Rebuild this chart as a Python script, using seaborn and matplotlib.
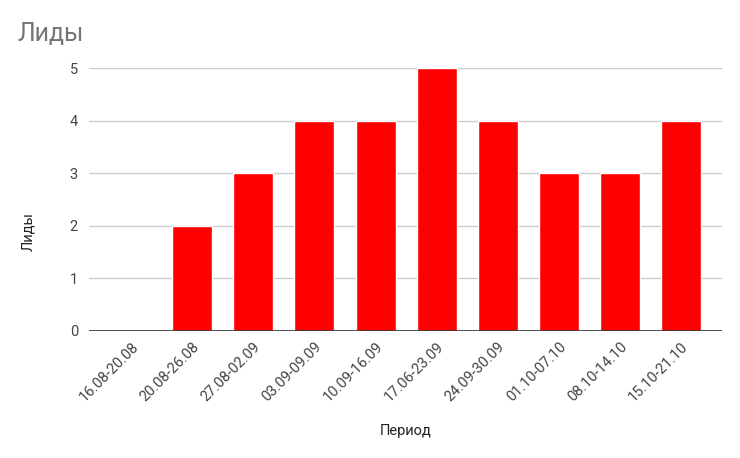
import matplotlib
matplotlib.use("Agg")
import matplotlib.pyplot as plt
import seaborn as sns
import pandas as pd

# Data
periods = ["16.08-20.08", "20.08-26.08", "27.08-02.09", "03.09-09.09", "10.09-16.09",
           "17.06-23.09", "24.09-30.09", "01.10-07.10", "08.10-14.10", "15.10-21.10"]
leads = [0, 2, 3, 4, 4, 5, 4, 3, 3, 4]
y_ticks = [0, 1, 2, 3, 4, 5]

sns.set_style("white")
plt.rcParams['font.family'] = ['Roboto', 'DejaVu Sans']

df = pd.DataFrame({"Период": periods, "Лиды": leads})

fig = plt.figure(figsize=(7.4, 4.58), dpi=100)
ax = fig.add_axes([0.1203, 0.2773, 0.8554, 0.5742])

sns.barplot(data=df, x="Период", y="Лиды", color="#ff0000", saturation=1,
            width=0.655, ax=ax, zorder=3)

ax.set_xlim(-0.69, 9.67)
ax.set_ylim(0, 5)
ax.set_yticks(y_ticks)
ax.yaxis.grid(True, color="#cccccc", linewidth=1, zorder=0)
ax.axhline(0, color="#333333", linewidth=1.2, zorder=4)
for s in ax.spines.values():
    s.set_visible(False)

ax.tick_params(axis="y", length=0, pad=8, labelsize=10.5, labelcolor="#444444")
ax.tick_params(axis="x", length=0, pad=6, labelsize=10.5, labelcolor="#444444")
plt.setp(ax.get_xticklabels(), rotation=45, ha="right", va="top", rotation_mode="anchor")

ax.set_xlabel("Период", fontsize=10.5, color="#222222")
ax.set_ylabel("Лиды", fontsize=10.5, color="#222222")
ax.xaxis.set_label_coords(0.5, -0.355)
ax.yaxis.set_label_coords(-0.085, 0.38)
fig.text(0.024, 0.926, "Лиды", fontsize=18, color="#757575", ha="left", va="center")

fig.savefig("out.png", dpi=100)
